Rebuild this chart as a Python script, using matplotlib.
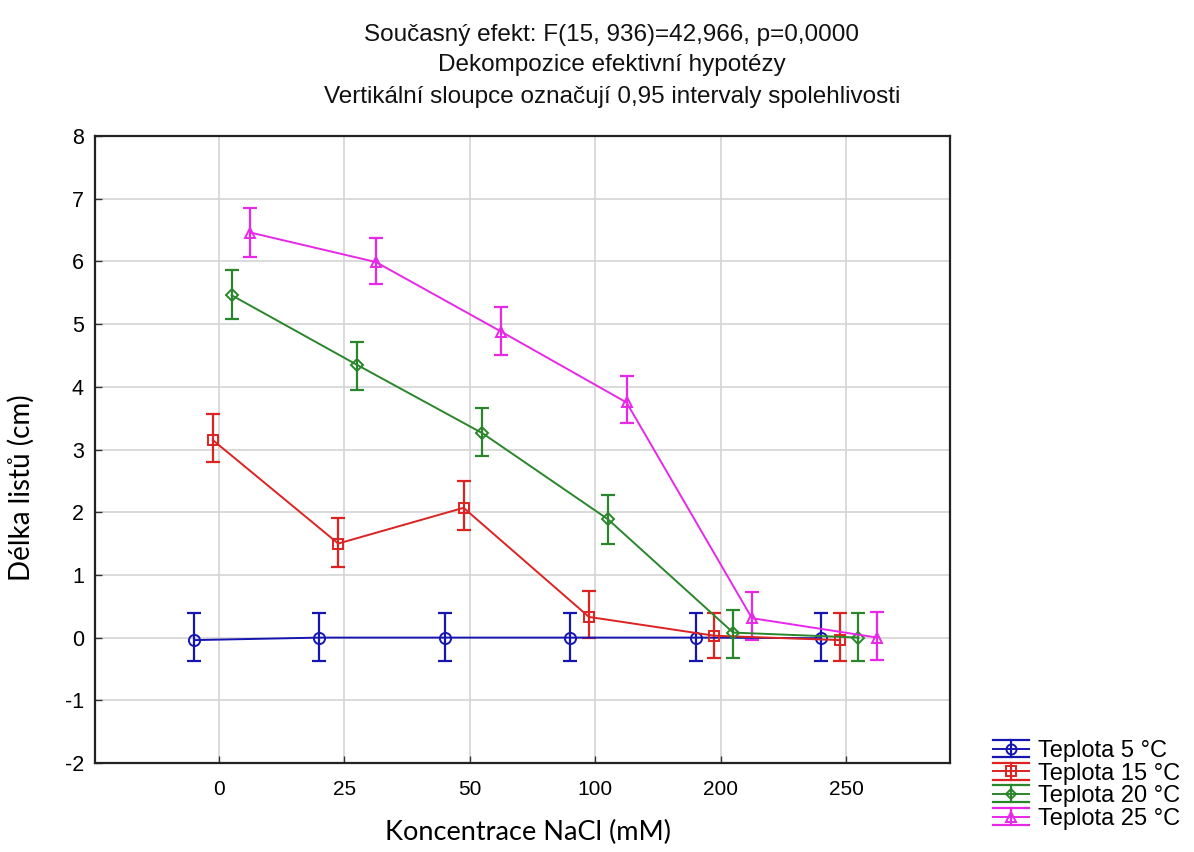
import matplotlib
matplotlib.use("Agg")
import matplotlib.pyplot as plt
from matplotlib.lines import Line2D
from matplotlib.legend_handler import HandlerBase
from matplotlib import font_manager
import numpy as np

plt.rcParams["axes.unicode_minus"] = False

categories = ["0", "25", "50", "100", "200", "250"]
series_labels = ["Teplota 5 °C", "Teplota 15 °C", "Teplota 20 °C", "Teplota 25 °C"]

mean_5 = [-0.04, 0.00, 0.00, 0.00, 0.00, -0.01]
upper_5 = [0.39, 0.39, 0.39, 0.39, 0.39, 0.39]
lower_5 = [-0.38, -0.38, -0.38, -0.38, -0.38, -0.38]

mean_15 = [3.15, 1.50, 2.07, 0.33, 0.03, -0.04]
upper_15 = [3.57, 1.90, 2.49, 0.75, 0.40, 0.39]
lower_15 = [2.80, 1.13, 1.72, -0.01, -0.33, -0.38]

mean_20 = [5.46, 4.35, 3.26, 1.89, 0.08, 0.00]
upper_20 = [5.86, 4.72, 3.66, 2.27, 0.44, 0.39]
lower_20 = [5.08, 3.95, 2.90, 1.50, -0.33, -0.38]

mean_25 = [6.46, 5.99, 4.88, 3.75, 0.31, 0.00]
upper_25 = [6.85, 6.38, 5.27, 4.18, 0.72, 0.41]
lower_25 = [6.07, 5.64, 4.50, 3.42, -0.04, -0.36]

title_lines = ["Současný efekt: F(15, 936)=42,966, p=0,0000",
               "Dekompozice efektivní hypotézy",
               "Vertikální sloupce označují 0,95 intervaly spolehlivosti"]
x_label = "Koncentrace NaCl (mM)"
y_label = "Délka listů (cm)"
y_ticks = [-2, -1, 0, 1, 2, 3, 4, 5, 6, 7, 8]

means = [mean_5, mean_15, mean_20, mean_25]
uppers = [upper_5, upper_15, upper_20, upper_25]
lowers = [lower_5, lower_15, lower_20, lower_25]
colors = ["#1515b0", "#dd2222", "#2a862a", "#e828e8"]
markers = ["o", "s", "D", "^"]
msizes = [8, 7.5, 6, 7.5]
offsets = [-0.2, -0.05, 0.1, 0.25]

avail = {f.name for f in font_manager.fontManager.ttflist}
narrow = "Liberation Sans Narrow" if "Liberation Sans Narrow" in avail else "Liberation Sans"

fig = plt.figure(figsize=(11.94, 8.52), dpi=100)
ax = fig.add_axes([95/1194, 89/852, 855/1194, 627/852])

xb = np.arange(len(categories))
for m, up, lo, c, mk, ms, off, lab in zip(means, uppers, lowers, colors, markers,
                                          msizes, offsets, series_labels):
    m = np.array(m); up = np.array(up); lo = np.array(lo)
    x = xb + off
    ax.errorbar(x, m, yerr=[m - lo, up - m], fmt="none", ecolor=c, elinewidth=1.6,
                capsize=5, capthick=1.6, zorder=3)
    ax.plot(x, m, color=c, lw=1.4, marker=mk, ms=ms, mfc="none", mec=c, mew=1.4,
            zorder=4, label=lab)

ax.set_xlim(-0.99, 5.83)
ax.set_ylim(-2, 8)
ax.set_yticks(y_ticks)
ax.set_xticks(xb)
ax.set_xticklabels(categories, fontfamily=narrow, fontsize=15)
ax.tick_params(axis="both", direction="in", length=5, width=1, colors="#333333")
ax.tick_params(axis="x", pad=12, labelcolor="black")
ax.tick_params(axis="y", pad=8, labelcolor="black")
for t in ax.get_yticklabels():
    t.set_fontfamily("Liberation Sans")
    t.set_fontsize(15.5)
ax.grid(True, color="#d4d4d4", lw=1.2)
ax.set_axisbelow(True)
for s in ax.spines.values():
    s.set_linewidth(1.6)
    s.set_color("#222222")

ax.set_xlabel(x_label, fontfamily="Lato", fontsize=19.5)
ax.set_ylabel(y_label, fontfamily="Lato", fontsize=20)
ax.xaxis.set_label_coords((528 - 95) / 855, (763 - 832) / 627)
ax.yaxis.set_label_coords((21 - 95) / 855, (763 - 488) / 627)
ax.xaxis.label.set_va("center")
ax.yaxis.label.set_va("center")

for i, (line, yy) in enumerate(zip(title_lines, [35, 65, 97])):
    fig.text(612 / 1194, 1 - yy / 852, line, ha="center", va="center",
             fontfamily="Liberation Sans", fontsize=17.5, color="#111111")


class ErrHandler(HandlerBase):
    def __init__(self, color, marker, ms):
        super().__init__()
        self.color = color; self.marker = marker; self.ms = ms

    def create_artists(self, legend, orig_handle, xdescent, ydescent, width, height,
                       fontsize, trans):
        c = self.color
        yc = height / 2 - ydescent
        top = height * 0.95 - ydescent
        bot = height * 0.05 - ydescent
        arts = [
            Line2D([-xdescent, width - xdescent], [yc, yc], color=c, lw=1.4),
            Line2D([-xdescent, width - xdescent], [top, top], color=c, lw=1.6),
            Line2D([-xdescent, width - xdescent], [bot, bot], color=c, lw=1.6),
            Line2D([width / 2 - xdescent] * 2, [bot, top], color=c, lw=1.6),
            Line2D([width / 2 - xdescent], [yc], marker=self.marker, ms=self.ms,
                   mfc="none", mec=c, mew=1.4, color=c),
        ]
        for a in arts:
            a.set_transform(trans)
        return arts


handles = [Line2D([], [], color=c) for c in colors]
hmap = {h: ErrHandler(c, mk, ms * 0.9) for h, c, mk, ms in zip(handles, colors, markers, msizes)}
leg = fig.legend(handles, series_labels, handler_map=hmap, loc="upper left",
                 bbox_to_anchor=(991/1194, 1 - 737/852), frameon=False,
                 prop={"family": "Liberation Sans", "size": 17},
                 handlelength=1.5, handletextpad=0.4, labelspacing=0.0,
                 borderpad=0.1, borderaxespad=0.0, handleheight=0.85)

fig.savefig("out.png", dpi=100)
